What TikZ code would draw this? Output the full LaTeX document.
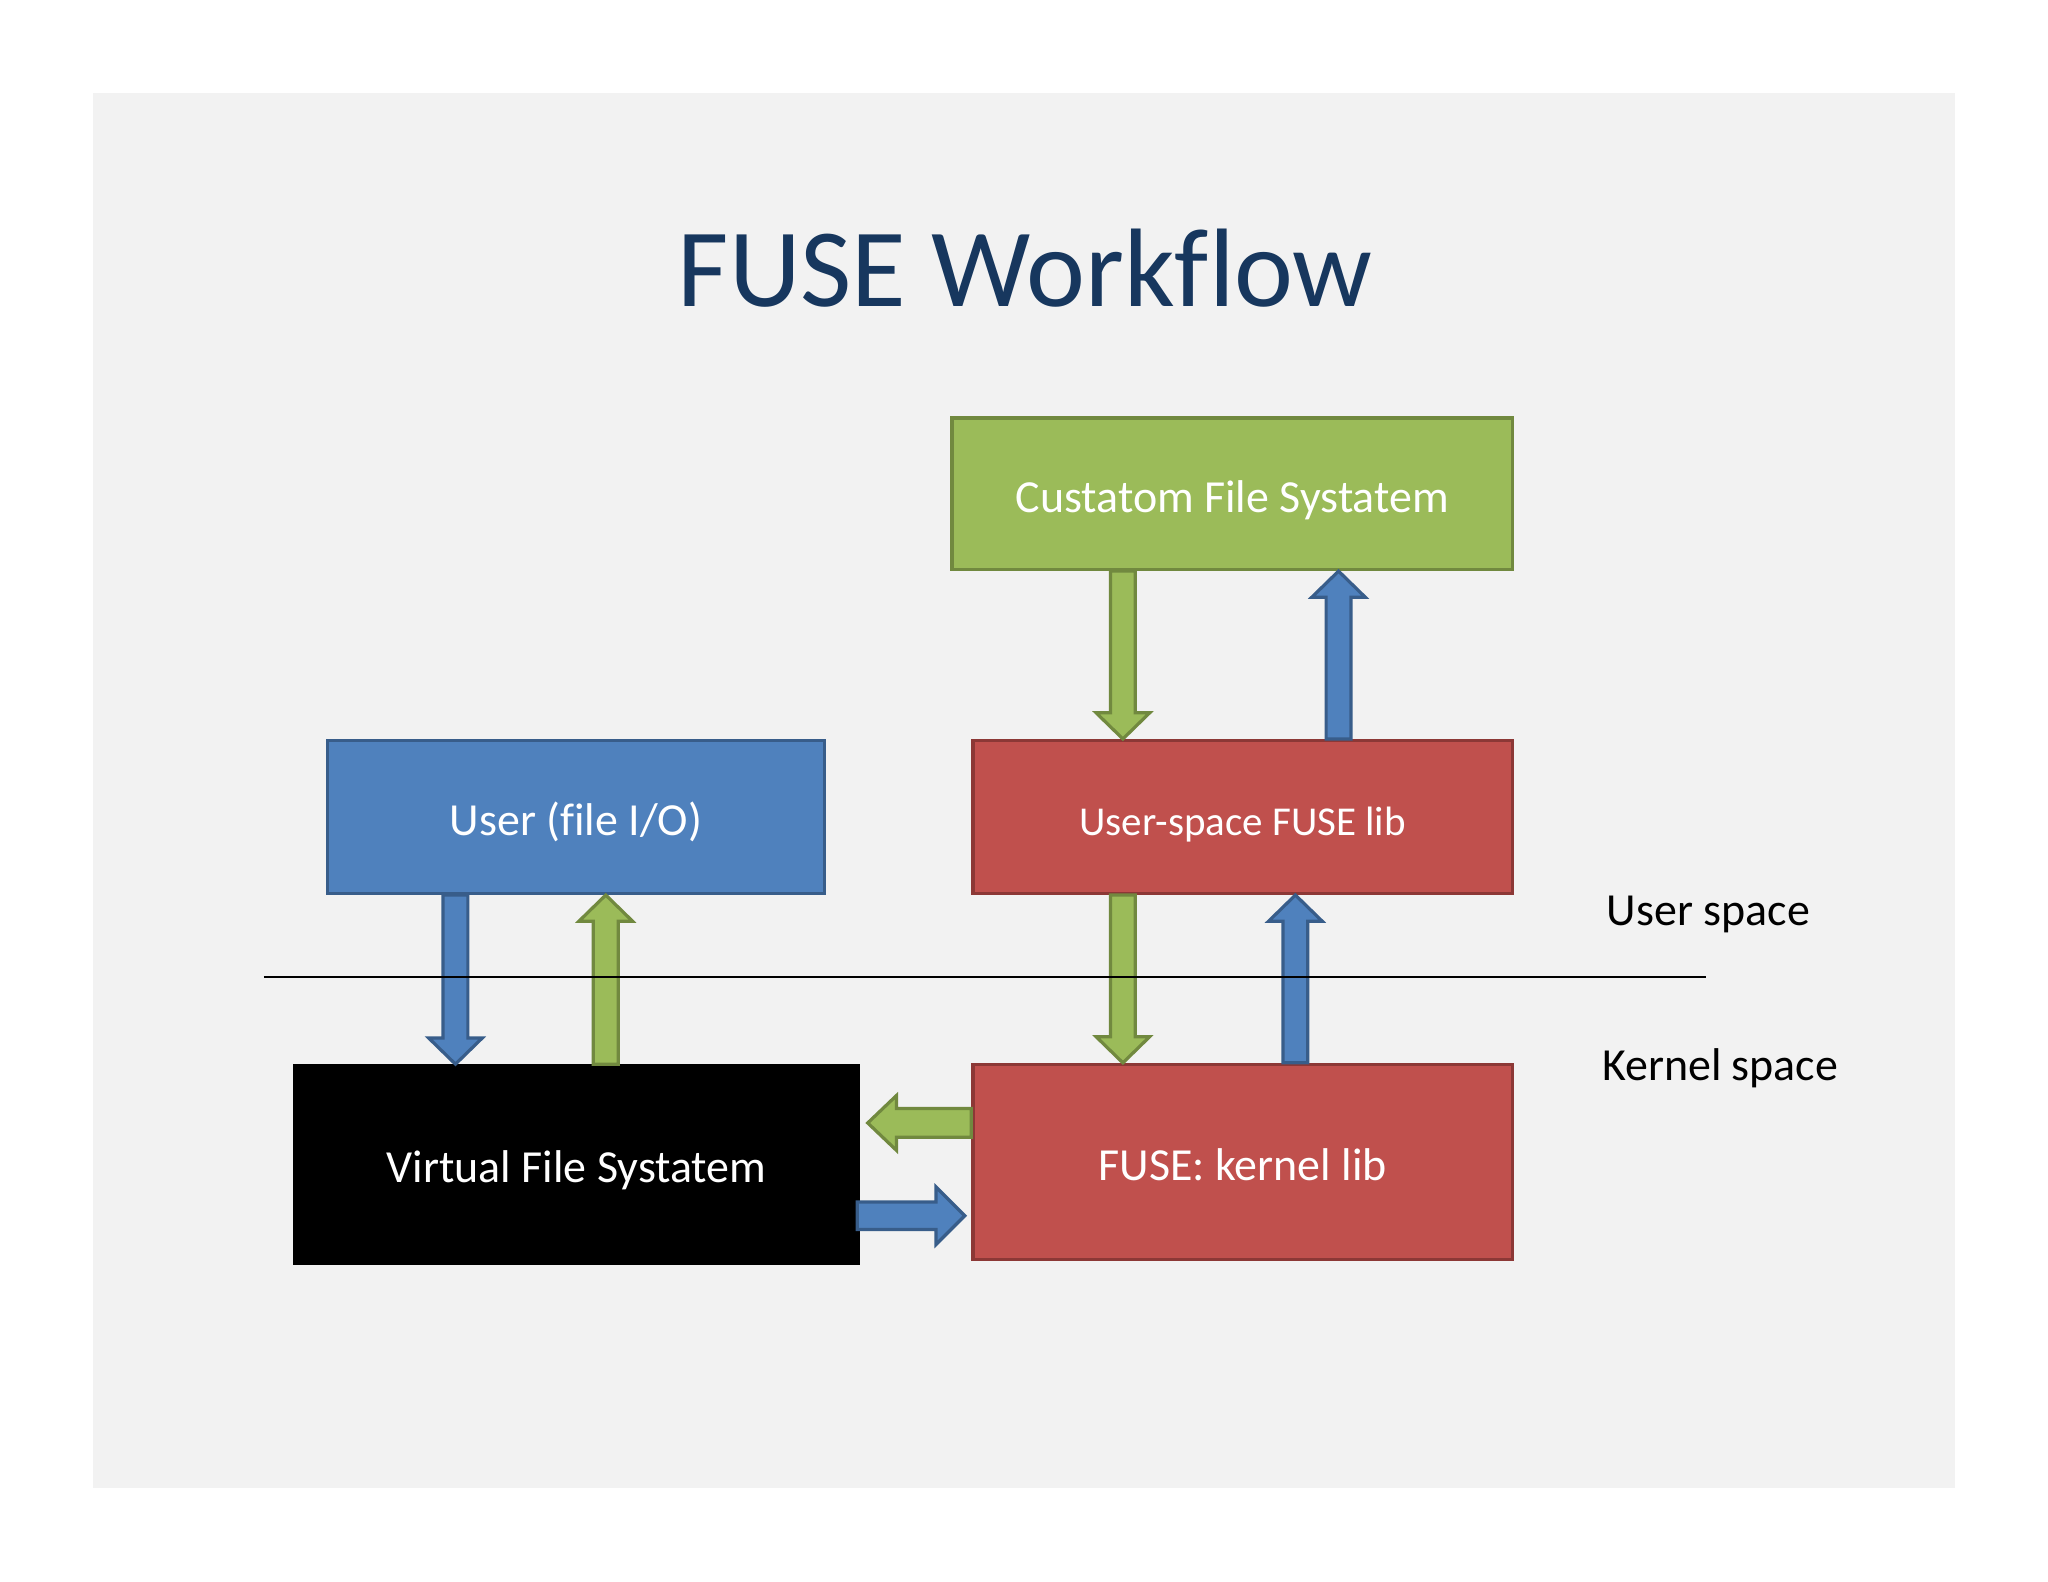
\documentclass[tikz,border=0pt]{standalone}
\usepackage{fontspec}
\setmainfont{Carlito}[Ligatures=NoCommon]
\usetikzlibrary{calc}
\definecolor{slidebg}{HTML}{F2F2F2}
\definecolor{titleblue}{HTML}{17375E}
\definecolor{cgreen}{HTML}{9BBB59}
\definecolor{cgreenb}{HTML}{71893F}
\definecolor{cred}{HTML}{C0504D}
\definecolor{credb}{HTML}{8C3836}
\definecolor{cblue}{HTML}{4F81BD}
\definecolor{cblueb}{HTML}{385D8A}
% vertical block arrow: style, from, to, shaft half width, head half width, head length
\newcommand{\blockv}[6]{%
  \filldraw[#1] let \p1=(#2), \p2=(#3), \n1={(\y2>\y1)?1:-1} in
    (\x1-#4,\y1) -- (\x1+#4,\y1) -- (\x1+#4,\y2-\n1*#6) -- (\x1+#5,\y2-\n1*#6)
    -- (\x1,\y2) -- (\x1-#5,\y2-\n1*#6) -- (\x1-#4,\y2-\n1*#6) -- cycle;}
% horizontal block arrow
\newcommand{\blockh}[6]{%
  \filldraw[#1] let \p1=(#2), \p2=(#3), \n1={(\x2>\x1)?1:-1} in
    (\x1,\y1-#4) -- (\x1,\y1+#4) -- (\x2-\n1*#6,\y1+#4) -- (\x2-\n1*#6,\y1+#5)
    -- (\x2,\y1) -- (\x2-\n1*#6,\y1-#5) -- (\x2-\n1*#6,\y1-#4) -- cycle;}
\begin{document}
\begin{tikzpicture}[x=0.01cm,y=-0.01cm,
  box/.style={rectangle, draw, line width=0.7pt, inner sep=0pt, text=white,
    text height=0.8em, text depth=0pt, font=\fontsize{10}{12}\selectfont},
  greenbox/.style={box, fill=cgreen, draw=cgreenb},
  redbox/.style={box, fill=cred, draw=credb},
  bluebox/.style={box, fill=cblue, draw=cblueb},
  blackbox/.style={box, fill=black, draw=black},
  greenarrow/.style={fill=cgreen, draw=cgreenb, line width=0.7pt, line join=miter},
  bluearrow/.style={fill=cblue, draw=cblueb, line width=0.7pt, line join=miter},
  label/.style={font=\fontsize{10}{12}\selectfont, text=black, inner sep=0pt}]
\useasboundingbox (0,0) rectangle (1568,1211);
\fill[white] (0,0) rectangle (1568,1211);
\fill[slidebg] (71,71) rectangle (1497,1139);

\node[font=\fontsize{24.3}{29}\selectfont, text=titleblue, inner sep=0pt] (title) at (785,205) {FUSE Workflow};

\node[greenbox, minimum width=4.29cm, minimum height=1.16cm] (custom) at (943.5,378) {Custatom File Systatem};
\node[redbox, minimum width=4.13cm, minimum height=1.17cm, font=\fontsize{8.93}{11}\selectfont] (uslib) at (951.5,625.5) {User-space FUSE lib};
\node[bluebox, minimum width=3.80cm, minimum height=1.17cm] (user) at (441,625.5) {User (file I/O)};
\node[blackbox, minimum width=4.31cm, minimum height=1.51cm] (vfs) at (441.5,891.5) {Virtual File Systatem};
\node[redbox, minimum width=4.13cm, minimum height=1.49cm] (kernel) at (951.5,889.5) {FUSE: kernel lib};

\node[label] (uspace) at (1308,700) {User space};
\node[label] (kspace) at (1317,818) {Kernel space};

% anchor coordinates for arrows
\coordinate (a1) at ([xshift=0.99cm]user.south west);
\coordinate (a2) at ([xshift=2.14cm]user.south west);
\coordinate (a3) at ([xshift=1.32cm]custom.south west);
\coordinate (a4) at ([xshift=2.97cm]custom.south west);
\coordinate (a5) at ([xshift=1.16cm]uslib.south west);
\coordinate (a6) at ([xshift=2.48cm]uslib.south west);
\coordinate (a7) at ([yshift=-0.46cm]kernel.north west);
\coordinate (a7e) at ([xshift=0.06cm]vfs.north east);
\coordinate (a8) at ([yshift=-1.16cm,xshift=-0.02cm]vfs.north east);
\coordinate (a8e) at ([xshift=-0.05cm]kernel.north west);

\blockv{bluearrow}{a1}{a1 |- vfs.north}{0.095cm}{0.205cm}{0.2cm}
\blockv{greenarrow}{a2 |- vfs.north}{a2}{0.095cm}{0.205cm}{0.2cm}
\blockv{greenarrow}{a3}{a3 |- uslib.north}{0.095cm}{0.205cm}{0.2cm}
\blockv{bluearrow}{a4 |- uslib.north}{a4}{0.095cm}{0.205cm}{0.2cm}
\blockv{greenarrow}{a5}{a5 |- kernel.north}{0.095cm}{0.205cm}{0.2cm}
\blockv{bluearrow}{a6 |- kernel.north}{a6}{0.095cm}{0.205cm}{0.2cm}
\blockh{greenarrow}{a7}{a7 -| a7e}{0.11cm}{0.21cm}{0.22cm}
\blockh{bluearrow}{a8}{a8 -| a8e}{0.105cm}{0.22cm}{0.22cm}

\coordinate (l1) at (202,748);
\coordinate (l2) at (1306,748);
\draw[line width=0.45pt, black] (l1) -- (l2);
\end{tikzpicture}
\end{document}
